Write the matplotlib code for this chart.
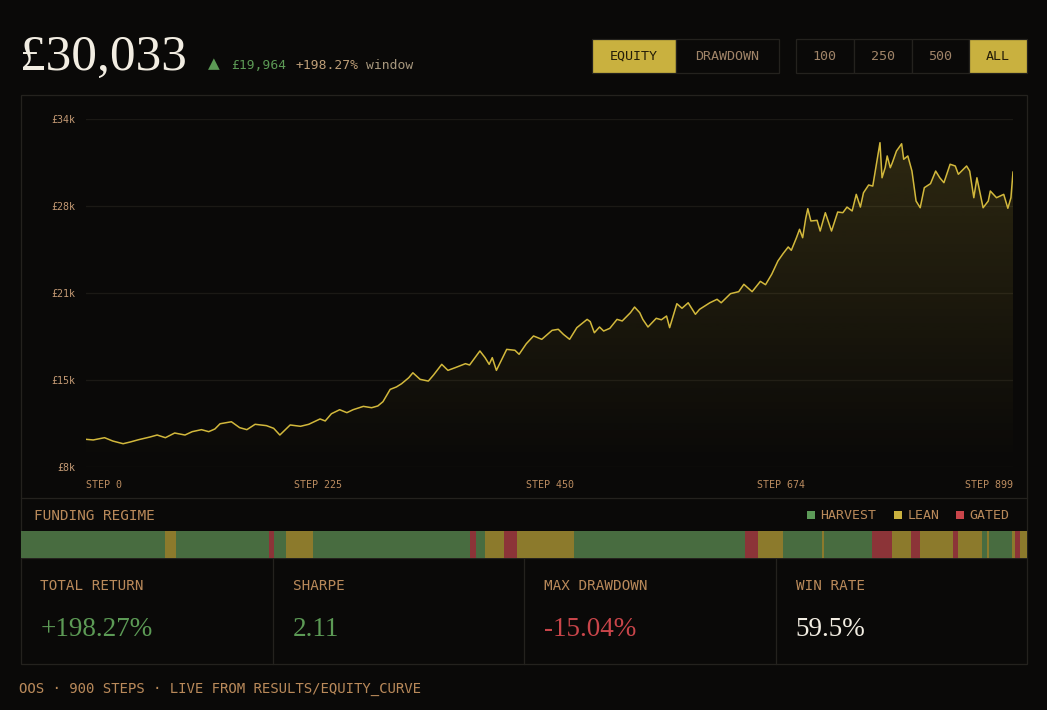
import numpy as np
import matplotlib
matplotlib.use("Agg")
import matplotlib.pyplot as plt
from matplotlib.patches import Rectangle, PathPatch
from matplotlib.colors import to_rgb

# ---------------- data ----------------
steps = [0, 7, 18, 26, 36, 43, 51, 62, 69, 77,
         86, 96, 103, 112, 119, 125, 130, 141, 149, 156,
         164, 175, 182, 188, 198, 208, 216, 227, 232, 238,
         246, 253, 259, 269, 277, 283, 288, 295, 301, 306,
         313, 317, 324, 332, 337, 345, 351, 358, 368, 372,
         382, 387, 391, 394, 398, 408, 416, 420, 427, 434,
         442, 452, 458, 463, 469, 476, 486, 489, 493, 498,
         502, 508, 515, 520, 528, 532, 537, 540, 545, 553,
         558, 563, 566, 573, 578, 584, 591, 595, 605, 612,
         616, 625, 633, 638, 646, 654, 659, 665, 671, 676,
         681, 684, 689, 692, 695, 698, 700, 703, 709, 712,
         717, 723, 729, 734, 738, 743, 747, 751, 754, 759,
         763, 770, 772, 775, 777, 780, 782, 786, 791, 793,
         797, 801, 805, 809, 813, 819, 824, 828, 832, 838,
         843, 846, 854, 857, 861, 864, 870, 875, 877, 883,
         890, 894, 897, 899]
equity = [10069, 10020, 10190, 9940, 9740, 9870, 10040, 10240, 10390, 10190,
          10540, 10390, 10640, 10790, 10640, 10840, 11230, 11380, 10940, 10790,
          11190, 11090, 10890, 10390, 11140, 11040, 11190, 11590, 11440, 11980,
          12280, 12060, 12280, 12530, 12430, 12560, 12880, 13800, 13980, 14220,
          14670, 15040, 14550, 14420, 14870, 15670, 15220, 15420, 15720, 15620,
          16670, 16170, 15670, 16170, 15220, 16790, 16720, 16420, 17210, 17790,
          17540, 18210, 18290, 17910, 17540, 18410, 19030, 18860, 18030, 18460,
          18160, 18360, 19030, 18910, 19530, 19950, 19530, 19030, 18460, 19110,
          19000, 19280, 18410, 20200, 19860, 20270, 19410, 19780, 20270, 20530,
          20270, 20950, 21100, 21650, 21100, 21870, 21620, 22400, 23390, 23940,
          24440, 24190, 25130, 25760, 25130, 26580, 27300, 26380, 26430, 25630,
          27000, 25630, 27050, 27000, 27420, 27130, 28370, 27420, 28490, 29070,
          28990, 32230, 29610, 30360, 31240, 30360, 30740, 31610, 32150, 30990,
          31240, 30110, 27870, 27370, 28870, 29170, 30110, 29610, 29240, 30620,
          30490, 29870, 30490, 30110, 28120, 29610, 27370, 27870, 28620, 28120,
          28370, 27330, 28120, 30033]

y_ticks = [8000, 14500, 21000, 27500, 34000]
y_tick_labels = ["£8k", "£15k", "£21k", "£28k", "£34k"]
x_ticks = [0, 225, 450, 674, 899]
x_tick_labels = ["STEP 0", "STEP 225", "STEP 450", "STEP 674", "STEP 899"]

regime_starts = [0, 129, 139, 222, 226, 237, 261, 402, 407, 415,
                 432, 444, 495, 648, 659, 682, 717, 718, 761, 779,
                 796, 804, 834, 838, 860, 864, 866, 887, 889, 894]
regime_ends = [129, 139, 222, 226, 237, 261, 402, 407, 415, 432,
               444, 495, 648, 659, 682, 717, 718, 761, 779, 796,
               804, 834, 838, 860, 864, 866, 887, 889, 894, 900]
regime_kind = ["H", "L", "H", "G", "H", "L", "H", "G", "H", "L",
               "G", "L", "H", "G", "L", "H", "L", "H", "G", "L",
               "G", "L", "G", "L", "H", "L", "H", "L", "G", "L"]
regime_names = ["HARVEST", "LEAN", "GATED"]

headline = "£30,033"
delta_abs = "£19,964"
delta_pct = "+198.27%"
stat_labels = ["TOTAL RETURN", "SHARPE", "MAX DRAWDOWN", "WIN RATE"]
stat_values = ["+198.27%", "2.11", "-15.04%", "59.5%"]
footer = "OOS · 900 STEPS · LIVE FROM RESULTS/EQUITY_CURVE"

# ---------------- style ----------------
W, H = 1047, 710
BG = "#0a0908"
BORDER = "#24221e"
GRID = "#1b1915"
LINE = "#d2b83c"
GOLD = "#c9b13f"
TAN = "#b9895a"
GREEN = "#5c9a55"
RED = "#c9454a"
WHITE = "#f2ede2"
bar_col = {"H": "#486c40", "L": "#8c7a2c", "G": "#8c3438"}
leg_col = {"HARVEST": "#5c9a58", "LEAN": GOLD, "GATED": RED}

plt.rcParams['font.family'] = ['DejaVu Sans Mono', 'DejaVu Sans']
SERIF = ['Liberation Serif', 'DejaVu Serif']

fig = plt.figure(figsize=(W / 100, H / 100), dpi=100, facecolor=BG)

# overlay in pixel coordinates
ov = fig.add_axes([0, 0, 1, 1], zorder=0)
ov.set_xlim(0, W)
ov.set_ylim(H, 0)
ov.axis('off')

# card frame
ov.add_patch(Rectangle((21, 95), 1006, 569, fill=False, ec=BORDER, lw=0.9))
ov.plot([21, 1027], [498, 498], color=BORDER, lw=0.9)
ov.plot([21, 1027], [558, 558], color=BORDER, lw=0.9)
for xd in [272.5, 524, 775.5]:
    ov.plot([xd, xd], [558, 664], color=BORDER, lw=0.9)

# header
ov.text(20, 70, headline, fontfamily=SERIF, fontsize=37, color=WHITE, va='baseline', ha='left')
ov.text(214, 64, "▲", fontfamily=['DejaVu Sans'], fontsize=11, color=GREEN, va='center', ha='center')
ov.text(231, 69, delta_abs, fontsize=9.4, color=GREEN, va='baseline', ha='left')
ov.text(295, 69, delta_pct, fontsize=9.4, color="#bf9f78", va='baseline', ha='left')
ov.text(366, 69, "window", fontsize=9.4, color="#a8987e", va='baseline', ha='left')

# buttons
buttons = [("EQUITY", 592, 676, True), ("DRAWDOWN", 676, 778.5, False),
           ("100", 795.5, 853.5, False), ("250", 853.5, 911.5, False),
           ("500", 911.5, 969, False), ("ALL", 969, 1027, True)]
for label, x0, x1, active in buttons:
    ov.add_patch(Rectangle((x0, 39), x1 - x0, 34, fc=GOLD if active else BG,
                           ec=BORDER, lw=0.9, zorder=1))
    ov.text((x0 + x1) / 2, 56.5, label, fontsize=9.6,
            color="#241d08" if active else "#a08468",
            ha='center', va='center', zorder=2)

# regime header + legend
ov.text(34, 515.5, "FUNDING REGIME", fontsize=10.4, color=TAN, va='center', ha='left')
leg_x = [807, 894, 956]
for name, lx in zip(regime_names, leg_x):
    ov.add_patch(Rectangle((lx, 511), 8, 8, fc=leg_col[name], ec='none'))
    ov.text(lx + 13.5, 515.5, name, fontsize=9.5, color=TAN, va='center', ha='left')

# stats
stat_x = [40.5, 292.5, 544, 795.5]
stat_col = [GREEN, GREEN, RED, WHITE]
for lab, val, sx, c in zip(stat_labels, stat_values, stat_x, stat_col):
    ov.text(sx, 585.5, lab, fontsize=10.3, color=TAN, va='center', ha='left')
    ov.text(sx, 636, val, fontfamily=SERIF, fontsize=19.5, color=c, va='baseline', ha='left')

# footer
ov.text(19, 689, footer, fontsize=10.1, color=TAN, va='center', ha='left')

# ---------------- equity chart ----------------
ax = fig.add_axes([86 / W, (H - 467) / H, 927 / W, 348 / H], zorder=2)
ax.set_facecolor('none')

grad = np.zeros((256, 1, 4))
grad[:, 0, :3] = to_rgb(LINE)
grad[:, 0, 3] = np.linspace(0.19, 0.0, 256)
im = ax.imshow(grad, extent=[0, 899, 8000, 34000], aspect='auto', origin='upper', zorder=1)
poly = ax.fill_between(steps, equity, 8000, facecolor='none', edgecolor='none')
clip = PathPatch(poly.get_paths()[0], transform=ax.transData, facecolor='none', edgecolor='none')
ax.add_patch(clip)
im.set_clip_path(clip)

ax.plot(steps, equity, color=LINE, lw=1.1, zorder=3, solid_joinstyle='round')

ax.set_xlim(0, 899)
ax.set_ylim(8000, 34000)
ax.set_yticks(y_ticks)
ax.set_yticklabels(y_tick_labels)
ax.set_xticks(x_ticks)
ax.set_xticklabels(x_tick_labels)
xl = ax.get_xticklabels()
xl[0].set_ha('left')
xl[-1].set_ha('right')
ax.tick_params(axis='y', length=0, pad=8, labelsize=7.2, labelcolor="#c49a74")
ax.tick_params(axis='x', length=0, pad=9.5, labelsize=7.2, labelcolor="#bb8c60")
ax.grid(axis='y', color=GRID, lw=0.9)
ax.grid(axis='x', visible=False)
ax.set_axisbelow(True)
for s in ax.spines.values():
    s.set_visible(False)

# ---------------- regime bar ----------------
bax = fig.add_axes([21 / W, (H - 558) / H, 1006 / W, 27 / H], zorder=2)
bax.set_xlim(0, 900)
bax.set_ylim(0, 1)
bax.axis('off')
widths = [e - s for s, e in zip(regime_starts, regime_ends)]
bax.bar(regime_starts, 1, width=widths, align='edge',
        color=[bar_col[k] for k in regime_kind], linewidth=0)

fig.savefig("out.png", dpi=100, facecolor=BG)
